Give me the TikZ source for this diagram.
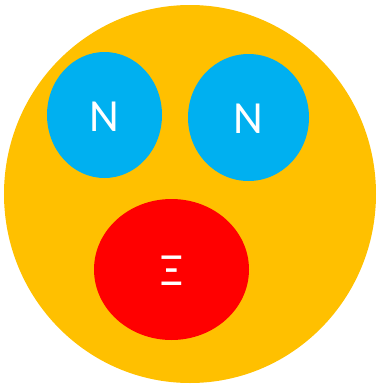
\documentclass[tikz,border=0pt]{standalone}
\usepackage{fontspec}
\setmainfont{Carlito}
\usetikzlibrary{shapes.geometric, positioning}
\definecolor{nucleusorange}{HTML}{FFC000}
\definecolor{nucleonblue}{HTML}{00B0F0}
\definecolor{hyperonred}{HTML}{FF0000}
\tikzset{
    particle/.style={ellipse, inner sep=0pt, text=white, font=\fontsize{46}{46}\selectfont},
}

\begin{document}
\begin{tikzpicture}[x=1pt, y=-1pt]
    \useasboundingbox (0,0) rectangle (376,384);
    \node[ellipse, fill=nucleusorange, minimum width=372pt, minimum height=378pt] (nucleus) at (190,194) {};
    \node[particle, fill=nucleonblue, minimum width=115pt, minimum height=126pt] (nleft) at (104.5,115) {};
    \node[particle, fill=nucleonblue, minimum width=121pt, minimum height=127pt] (nright) at (248.5,117.5) {};
    \node[particle, fill=hyperonred, minimum width=155pt, minimum height=141pt] (xi) at (171.5,269.5) {};
    \node[particle] (nlefttext) at (104.5,117) {N};
    \node[particle] (nrighttext) at (248,118.5) {N};
    \node[particle] (xitext) at (171.5,271) {Ξ};
\end{tikzpicture}
\end{document}
